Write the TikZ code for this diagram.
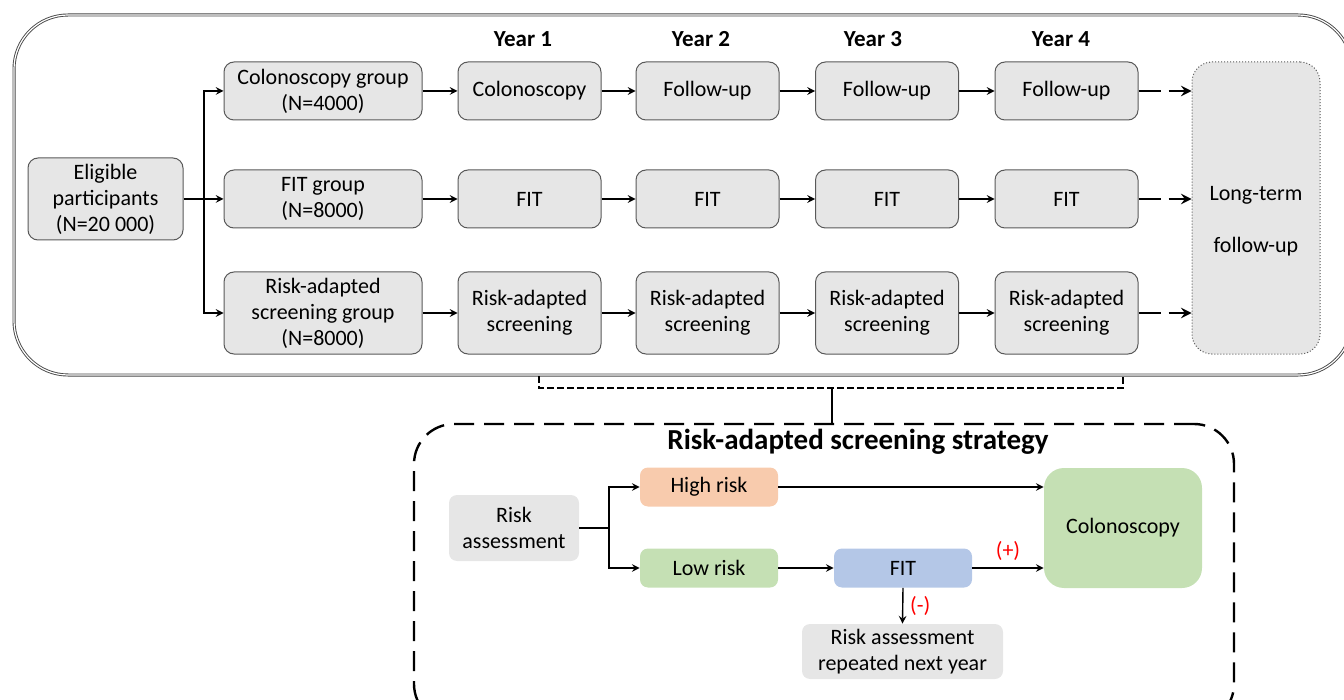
\documentclass[tikz,border=0pt]{standalone}
\usepackage{fontspec}
\setmainfont{Carlito}
\definecolor{boxgray}{HTML}{E6E6E6}
\definecolor{riskhigh}{HTML}{F8CBAD}
\definecolor{risklow}{HTML}{C5E0B4}
\definecolor{fitblue}{HTML}{B4C7E7}
\tikzset{
  box/.style={draw=gray!70!black, fill=boxgray, rounded corners=5pt,
    align=center, inner sep=0pt, line width=0.5pt},
  flat/.style={rounded corners=4pt, align=center, inner sep=0pt},
  arr/.style={-stealth, line width=0.7pt},
  dasharr/.style={-stealth, line width=1.3pt, dash pattern=on 11pt off 4pt},
  yearlbl/.style={font=\fontsize{11.5}{13}\selectfont\bfseries},
}
\begin{document}
\begin{tikzpicture}[x=0.5pt,y=-0.5pt,font=\fontsize{11}{13}\selectfont]
\useasboundingbox (0,0) rectangle (1344,700);
% study frame
\draw[draw=gray!55!black, double=white, double distance=0.6pt, line width=0.45pt,
  rounded corners=27pt] (14,15) rectangle (1352,375);
% years
\node[yearlbl] (y1) at (523,39) {Year 1};
\node[yearlbl] (y2) at (701,39) {Year 2};
\node[yearlbl] (y3) at (873,39) {Year 3};
\node[yearlbl] (y4) at (1061,39) {Year 4};
% participants and groups
\node[box, minimum width=77.5pt, minimum height=41pt] (elig) at (105.5,199)
  {Eligible\\participants\\(N=20 000)};
\node[box, minimum width=99pt, minimum height=29pt] (grp1) at (323,91)
  {Colonoscopy group\\(N=4000)};
\node[box, minimum width=99pt, minimum height=29pt] (grp2) at (323,199)
  {FIT group\\(N=8000)};
\node[box, minimum width=99pt, minimum height=41pt] (grp3) at (323,313)
  {Risk-adapted\\screening group\\(N=8000)};
% yearly steps
\node[box, minimum width=71.5pt, minimum height=29pt] (c11) at (529.5,91) {Colonoscopy};
\node[box, minimum width=71.5pt, minimum height=29pt] (c12) at (707.5,91) {Follow-up};
\node[box, minimum width=71.5pt, minimum height=29pt] (c13) at (887,91) {Follow-up};
\node[box, minimum width=71.5pt, minimum height=29pt] (c14) at (1066.5,91) {Follow-up};
\foreach \x/\i in {529.5/1,707.5/2,887/3,1066.5/4}{
  \node[box, minimum width=71.5pt, minimum height=29pt] (c2\i) at (\x,199) {FIT};
  \node[box, minimum width=71.5pt, minimum height=41pt] (c3\i) at (\x,313)
    {Risk-adapted\\screening};
}
\node[box, draw=gray!70!black, densely dotted, rounded corners=10pt,
  minimum width=64pt, minimum height=146pt] (lt) at (1256,208)
  {\rule{0pt}{20pt}Long-term\\[13pt]follow-up};
% connectors
\coordinate (sp) at (204,199);
\draw[line width=0.7pt] (elig.east) -- (sp);
\draw[arr] (sp) |- (grp1.west);
\draw[arr] (sp) -- (grp2.west);
\draw[arr] (sp) |- (grp3.west);
\foreach \r in {1,2,3}{
  \draw[arr] (grp\r.east) -- (c\r1.west);
  \draw[arr] (c\r1) -- (c\r2);
  \draw[arr] (c\r2) -- (c\r3);
  \draw[arr] (c\r3) -- (c\r4);
  \draw[dasharr] (c\r4.east) -- (c\r4.east -| lt.west);
}
% strategy box
\node[draw, line width=1.2pt, dash pattern=on 10pt off 5pt, rounded corners=20pt,
  minimum width=410pt, minimum height=150pt] (strat) at (824,574) {};
\node[font=\fontsize{14.5}{16}\selectfont\bfseries] (title) at (858,442)
  {Risk-adapted screening strategy};
\coordinate (bl) at (539,376);
\coordinate (br) at (1123,376);
\coordinate (bk) at (832,388);
\draw[line width=0.8pt, dash pattern=on 3.5pt off 1.5pt]
  (bl) -- (539,388) -- (1123,388) -- (br);
\draw[line width=0.8pt] (bk) -- (bk |- strat.north);
\node[flat, fill=boxgray, minimum width=65pt, minimum height=33pt] (ra) at (514,528)
  {Risk\\assessment};
\node[flat, fill=riskhigh, minimum width=69pt, minimum height=19.5pt] (hi) at (709,487)
  {High risk};
\node[flat, fill=risklow, minimum width=69pt, minimum height=19.5pt] (lo) at (709,568)
  {Low risk};
\node[flat, fill=fitblue, minimum width=69pt, minimum height=19.5pt] (fit) at (903,568)
  {FIT};
\node[flat, fill=risklow, rounded corners=10pt, minimum width=79pt, minimum height=60pt]
  (colo) at (1123,528) {Colonoscopy};
\node[flat, fill=boxgray, minimum width=100.5pt, minimum height=27.5pt] (rep)
  at (902.5,651.5) {Risk assessment\\repeated next year};
\coordinate (sp2) at (609,528);
\draw[line width=0.7pt] (ra.east) -- (sp2);
\draw[arr] (sp2) |- (hi.west);
\draw[arr] (sp2) |- (lo.west);
\draw[arr] (hi.east) -- (hi.east -| colo.west);
\draw[arr] (lo) -- (fit);
\draw[arr] (fit.east) -- node[above, text=red] {(+)} (fit.east -| colo.west);
\draw[arr] (fit.south) -- node[right, text=red] {(-)} (rep.north);
\end{tikzpicture}
\end{document}
